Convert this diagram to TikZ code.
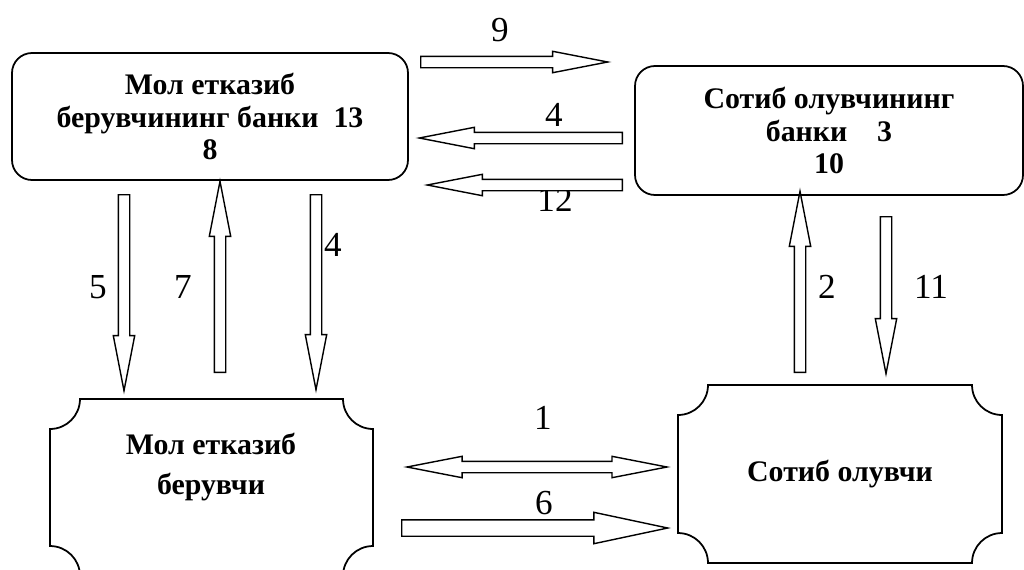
\documentclass[tikz,border=0pt]{standalone}
\usepackage{fontspec}
\setmainfont{Liberation Serif}
\usetikzlibrary{shapes.arrows,calc}

\begin{document}
\begin{tikzpicture}[x=0.02cm,y=-0.02cm,
    bank/.style={draw, line width=1pt, rounded corners=0.4cm, align=center, outer sep=0pt,
      font=\fontsize{17}{18.5}\selectfont\bfseries},
    party/.style={align=center, outer sep=0pt, font=\fontsize{17}{22.5}\selectfont\bfseries},
    num/.style={inner sep=0pt, font=\fontsize{20}{24}\selectfont},
    flow/.style={single arrow, draw, fill=white, line width=0.8pt, inner sep=0.1cm,
      minimum width=0pt, single arrow head extend=0.1cm, single arrow tip angle=22, anchor=tail},
  ]
    \def\rr{0.6cm}
    \def\u{0.02cm}

    \useasboundingbox (0,0) rectangle (1024,569);
    \clip (0,0) rectangle (1024,569);

    % Banks
    \node[bank, minimum width=396*\u, minimum height=127*\u] (sbank) at (210,116.5)
      {Мол етказиб\\берувчининг банки~ 13\\8};
    \node[bank, minimum width=388*\u, minimum height=129*\u] (bbank) at (829,130.5)
      {Сотиб олувчининг\\банки\quad 3\\10};

    % Seller and buyer
    \node[party, minimum width=323*\u, minimum height=177*\u] (seller) at (211.5,487.5) {};
    \node[party] (sellername) at (211,467) {Мол етказиб\\берувчи};
    \node[party, minimum width=324*\u, minimum height=178*\u] (buyer) at (840,474) {Сотиб олувчи};

    % Scalloped frames
    \foreach \b in {seller,buyer} {
      \draw[line width=1pt] ($(\b.north west)+(\rr,0)$) -- ($(\b.north east)+(-\rr,0)$)
        arc[start angle=180, end angle=270, radius=\rr]
        -- ($(\b.south east)+(0,\rr)$)
        arc[start angle=90, end angle=180, radius=\rr]
        -- ($(\b.south west)+(\rr,0)$)
        arc[start angle=0, end angle=90, radius=\rr]
        -- ($(\b.north west)+(0,-\rr)$)
        arc[start angle=270, end angle=360, radius=\rr] -- cycle;
    }

    % Step numbers
    \node[num] (n9) at (500,30) {9};
    \node[num] (n4h) at (554,115) {4};
    \node[num] (n12) at (555,200) {12};
    \node[num] (n5) at (98,287) {5};
    \node[num] (n7) at (183,287) {7};
    \node[num] (n4v) at (333,245) {4};
    \node[num] (n2) at (827,287) {2};
    \node[num] (n11) at (931,287) {11};
    \node[num] (n1) at (543,418) {1};
    \node[num] (n6) at (544,503) {6};

    % Arrows between the banks
    \node[flow, minimum height=187*\u] (a9) at (420,62) {};
    \node[flow, minimum height=203*\u, shape border rotate=180] (a4h) at (623,138) {};
    \node[flow, minimum height=195*\u, shape border rotate=180] (a12) at (623,185) {};

    % Arrows down and up
    \node[flow, minimum height=196*\u, shape border rotate=270] (a5) at (124,194) {};
    \node[flow, minimum height=191*\u, shape border rotate=90] (a7) at (220,373) {};
    \node[flow, minimum height=195*\u, shape border rotate=270] (a4v) at (316,194) {};
    \node[flow, minimum height=181*\u, shape border rotate=90] (a2) at (800,373) {};
    \node[flow, minimum height=157*\u, shape border rotate=270] (a11) at (886,216) {};

    % Arrows between seller and buyer
    \node[double arrow, draw, fill=white, line width=0.8pt, inner sep=0.1cm,
      minimum width=0pt, double arrow head extend=0.1cm, double arrow tip angle=22,
      minimum height=260*\u] (a1) at (537,467) {};
    \node[flow, inner sep=0.15cm, single arrow head extend=0.15cm, single arrow tip angle=24,
      minimum height=266*\u] (a6) at (401,528) {};
\end{tikzpicture}
\end{document}
